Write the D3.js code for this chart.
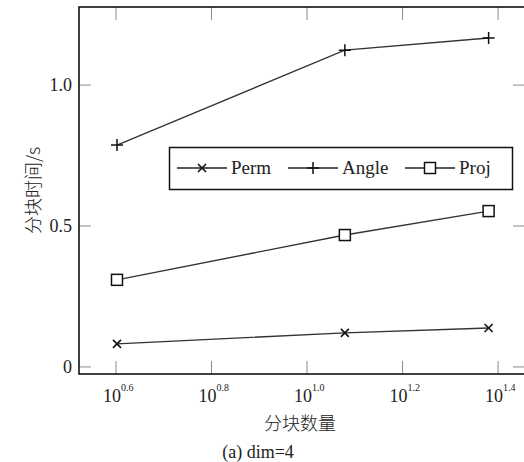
<!DOCTYPE html>
<html>
<head>
    <meta charset="utf-8">
    <title>分块时间</title>
    <script src="https://cdn.jsdelivr.net/npm/d3@7/dist/d3.min.js"></script>
    <style>
        body { margin: 0; background: #fff; }
    </style>
</head>
<body>
<div id="chart"></div>

<script type="text/javascript">
    // data
    const blocks = [4, 12, 24];                 // 分块数量
    const perm = [0.082, 0.121, 0.138];
    const angle = [0.787, 1.124, 1.167];
    const proj = [0.309, 0.468, 0.553];
    const xTickExp = ["0.6", "0.8", "1.0", "1.2", "1.4"];
    const yTicks = [0, 0.5, 1.0];
    const yTickLabels = ["0", "0.5", "1.0"];

    const series = [
        {name: "Perm", values: perm, marker: "x"},
        {name: "Angle", values: angle, marker: "plus"},
        {name: "Proj", values: proj, marker: "square"}
    ];

    const SERIF = "'Liberation Serif', 'DejaVu Serif', serif";
    const CJK = "'Noto Sans CJK SC', sans-serif";

    const W = 524, H = 462;
    const mLeft = 79, mRight = 526, mTop = 7, mBottom = 374;

    const svg = d3.select("#chart").append("svg")
        .attr("width", W)
        .attr("height", H);

    const x = d3.scaleLog()
        .domain([Math.pow(10, 0.5225), Math.pow(10, 1.4585)])
        .range([mLeft, mRight]);
    const y = d3.scaleLinear()
        .domain([-0.025, 1.277])
        .range([mBottom, mTop]);

    /// inward ticks on all four sides
    const tickLen = 13;
    const tickG = svg.append("g").attr("stroke", "#8a8a8a").attr("stroke-width", 1);
    xTickExp.forEach(e => {
        const px = x(Math.pow(10, +e));
        tickG.append("line").attr("x1", px).attr("x2", px).attr("y1", mBottom).attr("y2", mBottom - tickLen);
        tickG.append("line").attr("x1", px).attr("x2", px).attr("y1", mTop).attr("y2", mTop + tickLen);
    });
    yTicks.forEach(v => {
        tickG.append("line").attr("x1", mLeft).attr("x2", mLeft + tickLen - 1).attr("y1", y(v)).attr("y2", y(v));
        tickG.append("line").attr("x1", mRight).attr("x2", mRight - tickLen).attr("y1", y(v)).attr("y2", y(v));
    });

    /// tick labels
    const xl = svg.append("g")
        .attr("font-family", SERIF)
        .attr("fill", "#222");
    xTickExp.forEach(e => {
        const t = xl.append("text")
            .attr("x", x(Math.pow(10, +e)) - 13)
            .attr("y", 402)
            .attr("font-size", 18);
        t.append("tspan").text("10");
        t.append("tspan").attr("dy", -11).attr("font-size", 10).text(e);
    });
    svg.append("g")
        .attr("font-family", SERIF)
        .attr("fill", "#222")
        .selectAll("text")
        .data(yTicks)
        .join("text")
        .attr("x", 72)
        .attr("y", d => y(d) + 6)
        .attr("text-anchor", "end")
        .attr("font-size", 18)
        .text((d, i) => yTickLabels[i]);

    /// series lines
    const line = d3.line()
        .x((d, i) => x(blocks[i]))
        .y(d => y(d));

    function drawMarker(g, type, cx, cy) {
        if (type === "x") {
            const r = 4;
            g.append("path")
                .attr("d", `M${cx - r},${cy - r}L${cx + r},${cy + r}M${cx - r},${cy + r}L${cx + r},${cy - r}`)
                .attr("stroke", "#111").attr("stroke-width", 1.6).attr("fill", "none");
        } else if (type === "plus") {
            const r = 6;
            g.append("path")
                .attr("d", `M${cx - r},${cy}L${cx + r},${cy}M${cx},${cy - r}L${cx},${cy + r}`)
                .attr("stroke", "#111").attr("stroke-width", 1.5).attr("fill", "none");
        } else {
            const r = 5.5;
            g.append("rect")
                .attr("x", cx - r).attr("y", cy - r)
                .attr("width", 2 * r).attr("height", 2 * r)
                .attr("stroke", "#111").attr("stroke-width", 1.5).attr("fill", "#fff");
        }
    }

    series.forEach(s => {
        svg.append("path")
            .datum(s.values)
            .attr("fill", "none")
            .attr("stroke", "#333")
            .attr("stroke-width", 1.4)
            .attr("d", line);
        const g = svg.append("g");
        s.values.forEach((v, i) => drawMarker(g, s.marker, x(blocks[i]), y(v)));
    });

    /// frame
    svg.append("rect")
        .attr("x", mLeft).attr("y", mTop)
        .attr("width", mRight - mLeft).attr("height", mBottom - mTop)
        .attr("fill", "none")
        .attr("stroke", "#111")
        .attr("stroke-width", 1.6);

    /// legend
    const lg = svg.append("g");
    lg.append("rect")
        .attr("x", 169.5).attr("y", 147.5)
        .attr("width", 343).attr("height", 42)
        .attr("fill", "#fff")
        .attr("stroke", "#111")
        .attr("stroke-width", 1.5);
    const legendX = [177, 288, 405];
    series.forEach((s, i) => {
        const lx = legendX[i], ly = 168;
        lg.append("line")
            .attr("x1", lx).attr("x2", lx + 50)
            .attr("y1", ly).attr("y2", ly)
            .attr("stroke", "#222").attr("stroke-width", 1.4);
        drawMarker(lg, s.marker, lx + 25, ly);
        lg.append("text")
            .attr("x", lx + 54)
            .attr("y", ly + 6)
            .attr("font-family", SERIF)
            .attr("font-size", 19)
            .attr("fill", "#222")
            .text(s.name);
    });

    /// axis titles and caption
    svg.append("text")
        .attr("transform", `translate(40, ${(mTop + mBottom) / 2}) rotate(-90)`)
        .attr("text-anchor", "middle")
        .attr("font-family", CJK)
        .attr("font-weight", 300)
        .attr("font-size", 18)
        .attr("fill", "#222")
        .text("分块时间/s");
    svg.append("text")
        .attr("x", 300)
        .attr("y", 430)
        .attr("text-anchor", "middle")
        .attr("font-family", CJK)
        .attr("font-weight", 300)
        .attr("font-size", 18)
        .attr("fill", "#222")
        .text("分块数量");
    svg.append("text")
        .attr("x", 258)
        .attr("y", 458)
        .attr("text-anchor", "middle")
        .attr("font-family", SERIF)
        .attr("font-size", 18)
        .attr("fill", "#222")
        .text("(a) dim=4");
</script>
</body>
</html>
